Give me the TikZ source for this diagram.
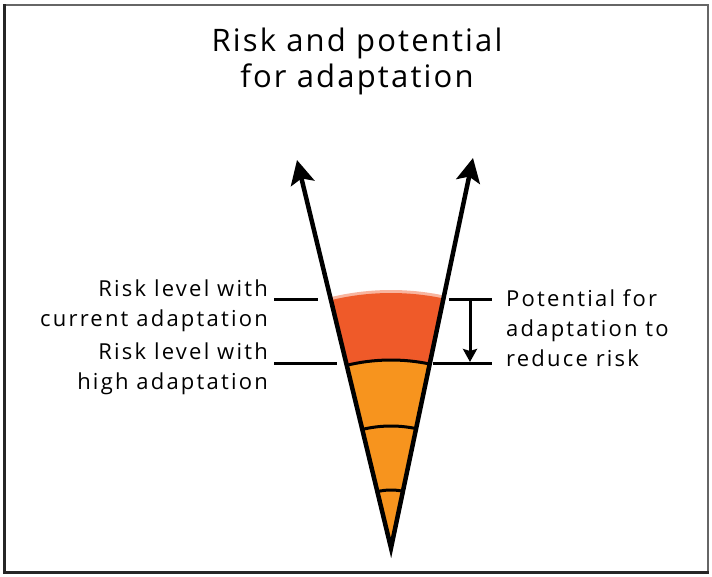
\documentclass[tikz,border=0pt]{standalone}
\usepackage{fontspec}
\setmainfont{Open Sans}
\usetikzlibrary{arrows.meta,positioning}

\definecolor{riskred}{RGB}{239,90,41}
\definecolor{riskorange}{RGB}{247,148,30}

\begin{document}
\begin{tikzpicture}[
    x=1pt, y=1pt,
    note/.style={
        font=\fontsize{22}{30}\selectfont\addfontfeatures{LetterSpace=10},
        inner sep=0pt
    },
    levelline/.style={line width=3pt},
    band/.style={line width=3pt},
    cone/.style={<->, line width=4.5pt, line join=miter,
        >={Stealth[length=24pt, width=24pt, inset=5pt]}},
    arrow/.style={->, line width=3pt,
        >={Stealth[length=13pt, width=14pt, inset=2pt]}},
]
  %––– Frame –––––––––––––––––––––––––––––––––––––––––––––––
  \useasboundingbox (0,0) rectangle (712,576);
  \draw[black!60, line width=1.5pt] (5,4) rectangle (708,571);
  \draw[black!85, line width=3.5pt] (4.5,571.5) -- (4.5,3.5) -- (708.5,3.5);

  %––– Title –––––––––––––––––––––––––––––––––––––––––––––––
  \node (title) [font=\fontsize{31}{36.7}\selectfont\addfontfeatures{LetterSpace=7},
        align=center, anchor=base, inner sep=0pt] at (357,488)
        {Risk and potential\\for adaptation};

  %––– Cone bands ––––––––––––––––––––––––––––––––––––––––––
  \coordinate (apex) at (391,28);
  \coordinate (tipL) at (297,416);
  \coordinate (tipR) at (473,418);

  \fill[riskred!45] (apex) -- ++(103.62:258)
      arc[start angle=103.62, end angle=78.13, radius=258] -- cycle;
  \fill[riskred] (apex) -- ++(103.62:255)
      arc[start angle=103.62, end angle=78.13, radius=255] -- cycle;
  \fill[riskorange] (apex) -- ++(103.62:188)
      arc[start angle=103.62, end angle=78.13, radius=188] -- cycle;
  \foreach \r in {188,122,58}
    \draw[band] (apex) ++(103.62:\r)
      arc[start angle=103.62, end angle=78.13, radius=\r];

  \draw[cone] (tipL) -- (apex) -- (tipR);

  %––– Level lines –––––––––––––––––––––––––––––––––––––––––
  \coordinate (curL)  at (274,276);
  \coordinate (curLe) at (318,276);
  \coordinate (higL)  at (274,212.5);
  \coordinate (higLe) at (337,212.5);
  \coordinate (curR)  at (449,276);
  \coordinate (curRe) at (492,276);
  \coordinate (higR)  at (433,212.5);
  \coordinate (higRe) at (492,212.5);

  \draw[levelline] (curL) -- (curLe);
  \draw[levelline] (higL) -- (higLe);
  \draw[levelline] (curR) -- (curRe);
  \draw[levelline] (higR) -- (higRe);

  \coordinate (potTop) at (470,276);
  \coordinate (potBot) at (470,214);
  \draw[arrow] (potTop) -- (potBot);

  %––– Labels ––––––––––––––––––––––––––––––––––––––––––––––
  \node (current) [note, align=right, anchor=base east] at (268,249)
        {Risk level with\\current adaptation};
  \node (high) [note, align=right, anchor=base east] at (268,186)
        {Risk level with\\high adaptation};
  \node (potential) [note, align=left, anchor=base west] at (506,209.3)
        {Potential for\\adaptation to\\reduce risk};
\end{tikzpicture}
\end{document}
